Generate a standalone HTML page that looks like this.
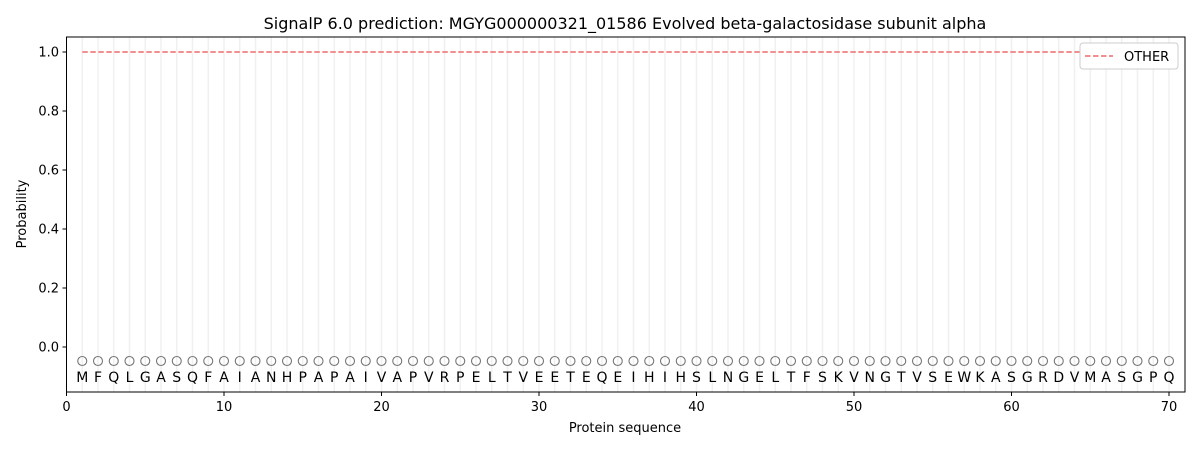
<!DOCTYPE html>
<html><head><meta charset="utf-8"><style>body{margin:0;background:#fff}svg{display:block;font-family:"DejaVu Sans","Liberation Sans",sans-serif}</style></head>
<body>
<svg id="s" width="1200" height="450" xmlns="http://www.w3.org/2000/svg">
<rect width="1200" height="450" fill="#fff"/>
<g id="g"></g>
<line x1="82.3" y1="52" x2="1170" y2="52" stroke="#f08080" stroke-width="1.8" stroke-dasharray="5.5,2.5"/>
<rect x="66.5" y="37" width="1118.5" height="355" fill="none" stroke="#000" stroke-width="1"/>
<text x="625" y="29" font-size="16" text-anchor="middle">SignalP 6.0 prediction: MGYG000000321_01586 Evolved beta-galactosidase subunit alpha</text>
<text x="625" y="432" font-size="13" text-anchor="middle">Protein sequence</text>
<text transform="translate(26,214) rotate(-90)" font-size="13" text-anchor="middle">Probability</text>
<rect x="1080" y="43" width="98" height="26" rx="3" fill="#fff" stroke="#ccc"/>
<line x1="1085" y1="56" x2="1113" y2="56" stroke="#f08080" stroke-width="1.8" stroke-dasharray="5.5,2.5"/>
<text x="1124" y="61" font-size="13">OTHER</text>
</svg>
<script>
var g=document.getElementById('g'),h='';
var seq="MFQLGASQFAIANHPAPAIVAPVRPELTVEETEQEIHIHSLNGELTFSKVNGTVSEWKASGRDVMASGPQ";
function X(i){return 66.5+i*15.75;}
for(var i=1;i<=70;i++){var x=X(i);
h+='<line x1="'+x+'" y1="37" x2="'+x+'" y2="392" stroke="#f0f0f0" stroke-width="1.5"/>';
h+='<circle cx="'+x+'" cy="361" r="4.5" fill="none" stroke="#777" stroke-width="1.1"/>';
h+='<text x="'+x+'" y="382" font-size="14" text-anchor="middle">'+seq[i-1]+'</text>';}
for(var t=0;t<=70;t+=10){var x=X(t);h+='<line x1="'+x+'" y1="392" x2="'+x+'" y2="396" stroke="#000"/><text x="'+x+'" y="411" font-size="13" text-anchor="middle">'+t+'</text>';}
for(var k=0;k<=5;k++){var v=k*0.2,y=347-v*295;h+='<line x1="62.5" y1="'+y+'" x2="66.5" y2="'+y+'" stroke="#000"/><text x="59" y="'+(y+4.5)+'" font-size="13" text-anchor="end">'+v.toFixed(1)+'</text>';}
g.innerHTML=h;
</script>
</body></html>
